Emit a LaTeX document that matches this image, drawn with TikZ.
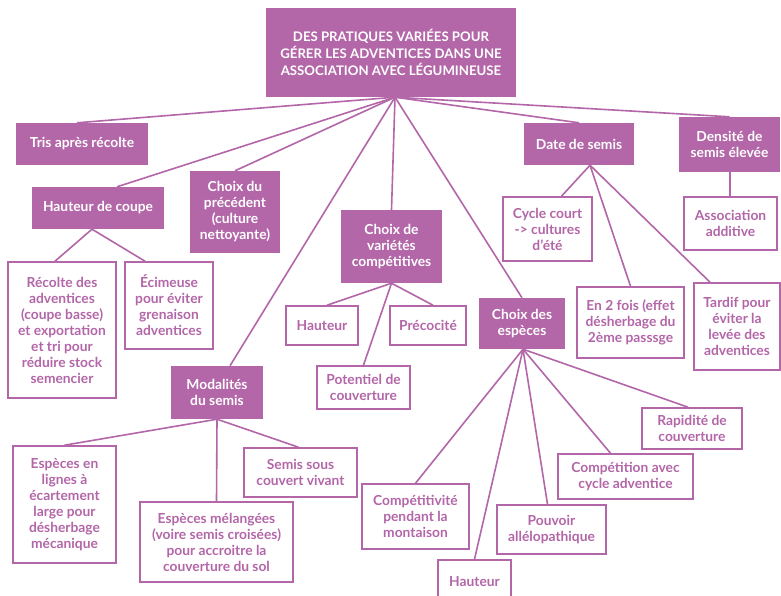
\documentclass[tikz,border=0pt]{standalone}
\usepackage{fontspec}
\setmainfont{Lato}
\usetikzlibrary{calc}
\definecolor{pur}{HTML}{B366A8}
\begin{document}
\begin{tikzpicture}[x=1pt,y=-1pt,
  txt/.style={font=\bfseries\fontsize{13.8}{16}\selectfont,align=center,inner sep=0pt},
  fbox/.style={txt,fill=pur,draw=none,text=white},
  obox/.style={txt,draw=pur,line width=1.6pt,fill=white,text=pur},
  link/.style={draw=pur,line width=1.6pt},
  sz/.style 2 args={minimum width=#1pt,minimum height=#2pt}]
\useasboundingbox (0,0) rectangle (781,595);
\fill[white] (0,0) rectangle (781,595);
% main
\node[fbox,sz={250}{89},font=\bfseries\fontsize{13.2}{16.7}\selectfont] (root) at (391,52.5) {DES PRATIQUES VARIÉES POUR\\GÉRER LES ADVENTICES DANS UNE\\ASSOCIATION AVEC LÉGUMINEUSE};
% first level
\node[fbox,sz={132}{42}] (tris) at (82,144) {Tris après récolte};
\node[fbox,sz={132}{42}] (hcoupe) at (98,208) {Hauteur de coupe};
\node[fbox,sz={90}{82}] (prec) at (235,212) {Choix du\\précédent\\(culture\\nettoyante)};
\node[fbox,sz={92}{53}] (modal) at (217,392.5) {Modalités\\du semis};
\node[fbox,sz={101}{73}] (var) at (391.5,246.5) {Choix de\\variétés\\compétitives};
\node[fbox,sz={86}{51}] (esp) at (522,323.5) {Choix des\\espèces};
\node[fbox,sz={110}{42}] (date) at (579,144) {Date de semis};
\node[fbox,sz={101}{55}] (dens) at (729.5,144.5) {Densité de\\semis élevée};
% second level
\node[obox,sz={108}{136}] (recolte) at (62,330) {Récolte des\\adventices\\(coupe basse)\\et exportation\\et tri pour\\réduire stock\\semencier};
\node[obox,sz={88}{87}] (ecim) at (169,305.5) {Écimeuse\\pour éviter\\grenaison\\adventices};
\node[obox,sz={103}{117}] (lignes) at (64.5,504.5) {Espèces en\\lignes à\\écartement\\large pour\\désherbage\\mécanique};
\node[obox,sz={153}{80}] (melang) at (216.5,542) {Espèces mélangées\\(voire semis croisées)\\pour accroitre la\\couverture du sol};
\node[obox,sz={113}{49}] (sous) at (300.5,472.5) {Semis sous\\couvert vivant};
\node[obox,sz={72}{39}] (hvar) at (322,325.5) {Hauteur};
\node[obox,sz={76}{39}] (preco) at (428,325.5) {Précocité};
\node[obox,sz={93}{43}] (pot) at (363.5,387.5) {Potentiel de\\couverture};
\node[obox,sz={93}{53}] (assoc) at (730.5,223.5) {Association\\additive};
\node[obox,sz={89}{64}] (cycle) at (547.5,229) {Cycle court\\-> cultures\\d’été};
\node[obox,sz={107}{71}] (en2) at (630.5,322.5) {En 2 fois (effet\\désherbage du\\2ème passsge};
\node[obox,sz={86}{87}] (tardif) at (737,326.5) {Tardif pour\\éviter la\\levée des\\adventices};
\node[obox,sz={107}{65}] (compet) at (415.5,516.5) {Compétitivité\\pendant la\\montaison};
\node[obox,sz={73}{44}] (hesp) at (474.5,582) {Hauteur};
\node[obox,sz={109}{49}] (pouv) at (551.5,529.5) {Pouvoir\\allélopathique};
\node[obox,sz={135}{45}] (compc) at (625.5,476.5) {Compétition avec\\cycle adventice};
\node[obox,sz={100}{41}] (rapid) at (692,428.5) {Rapidité de\\couverture};
% connectors from root
\coordinate (r0) at ($(root.south)+(4,0)$);
\draw[link] (r0) -- ($(tris.north)+(-5,0)$);
\draw[link] (r0) -- ($(hcoupe.north)+(19,0)$);
\draw[link] (r0) -- (prec.north);
\draw[link] (r0) -- ($(modal.north)+(13,0)$);
\draw[link] (r0) -- (var.north);
\draw[link] (r0) -- (esp.north);
\draw[link] (r0) -- (date.north);
\draw[link] (r0) -- (dens.north);
% hauteur de coupe
\coordinate (hc0) at ($(hcoupe.south)+(-6,0)$);
\draw[link] (hc0) -- ($(recolte.north)+(-7,0)$);
\draw[link] (hc0) -- ($(ecim.north)+(-24,0)$);
% modalites
\draw[link] (modal.south) -- (lignes.north);
\draw[link] (modal.south) -- (melang.north);
\draw[link] (modal.south) -- ($(sous.north)+(-2,0)$);
% varietes
\draw[link] (var.south) -- ($(hvar.north)+(5,0)$);
\draw[link] (var.south) -- ($(preco.north)+(5,0)$);
\draw[link] (var.south) -- (pot.north);
% date
\coordinate (d0) at ($(date.south)+(11,0)$);
\draw[link] (d0) -- ($(cycle.north)+(14,0)$);
\draw[link] (d0) -- (en2.north);
\draw[link] (d0) -- ($(tardif.north)+(-27,0)$);
% densite
\draw[link] ($(dens.south)+(0.5,0)$) -- ($(assoc.north)+(-0.5,0)$);
% especes
\coordinate (e0) at ($(esp.south)+(1,0)$);
\draw[link] (e0) -- (compet.north);
\draw[link] (e0) -- (hesp.north);
\draw[link] (e0) -- ($(pouv.north)+(-4,0)$);
\draw[link] (e0) -- ($(compc.north)+(-15,0)$);
\draw[link] (e0) -- ($(rapid.north)+(-4,0)$);
\end{tikzpicture}
\end{document}
